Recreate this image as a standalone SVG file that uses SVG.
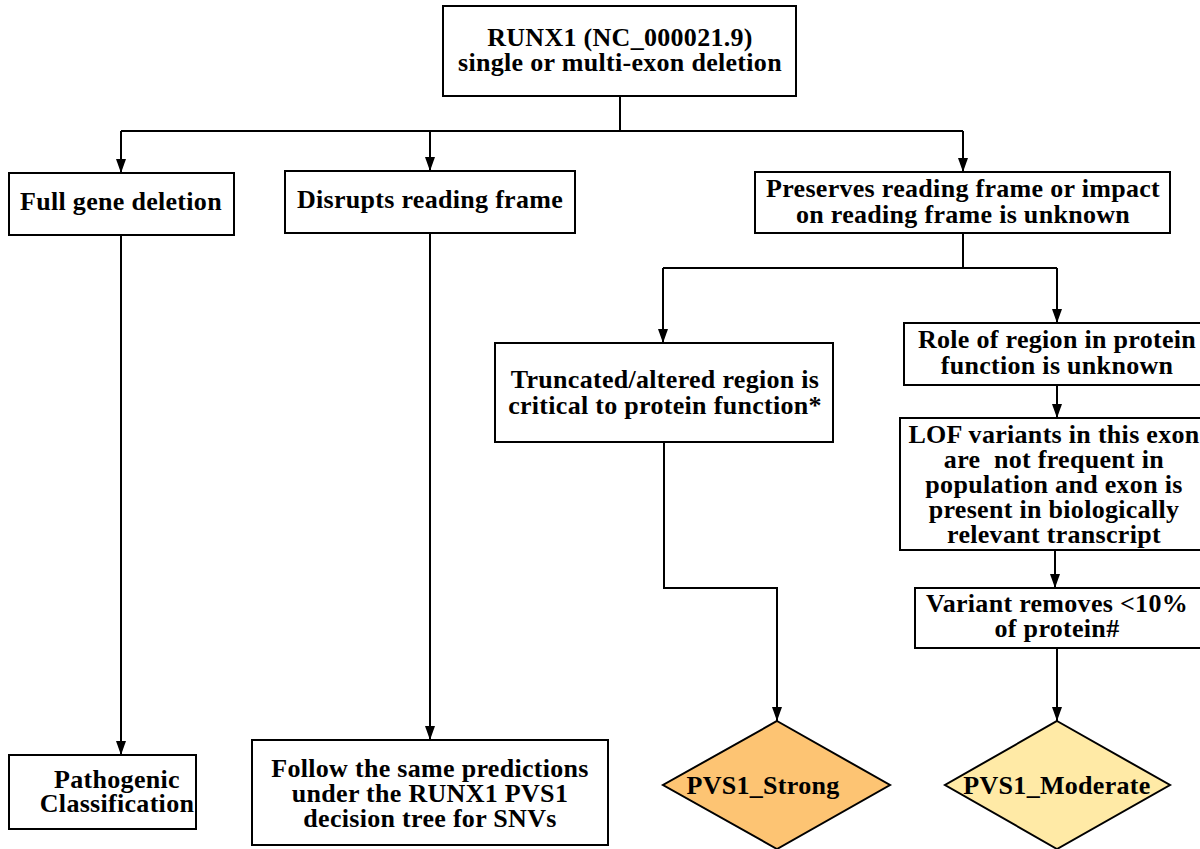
<svg xmlns="http://www.w3.org/2000/svg" width="1200" height="849" viewBox="0 0 1200 849">
<style>
.box{fill:#fff;stroke:#000;stroke-width:2}
.t{font-family:'Liberation Serif','DejaVu Serif',serif;font-weight:bold;font-size:26px;letter-spacing:0.3px;text-anchor:middle;fill:#000}
.c{fill:none;stroke:#000;stroke-width:2}
</style>
<defs>
<marker id="ah" markerWidth="14" markerHeight="10" refX="14" refY="5" orient="auto" markerUnits="userSpaceOnUse" viewBox="0 0 14 10">
<path d="M0,0 L14,5 L0,10 Z" fill="#000"/>
</marker>
</defs>
<rect width="1200" height="849" fill="#fff"/>
<g id="connectors">
<path class="c" d="M620,96 V131"/>
<path class="c" d="M121,131 H963"/>
<path class="c" d="M121,131 V173" marker-end="url(#ah)"/>
<path class="c" d="M430,131 V171" marker-end="url(#ah)"/>
<path class="c" d="M963,131 V172" marker-end="url(#ah)"/>
<path class="c" d="M121,235 V755" marker-end="url(#ah)"/>
<path class="c" d="M430,233 V740" marker-end="url(#ah)"/>
<path class="c" d="M963,233 V268 M663,268 H1057"/>
<path class="c" d="M663,268 V343" marker-end="url(#ah)"/>
<path class="c" d="M1057,268 V323" marker-end="url(#ah)"/>
<path class="c" d="M1057,385 V418" marker-end="url(#ah)"/>
<path class="c" d="M1055,550 V588" marker-end="url(#ah)"/>
<path class="c" d="M1057,648 V721" marker-end="url(#ah)"/>
<path class="c" d="M664,442 V588 H777 V721" marker-end="url(#ah)"/>
</g>
<g id="n-root">
<rect class="box" x="443" y="6" width="353" height="90"/>
<text class="t" x="620" y="46">RUNX1 (NC_000021.9)</text>
<text class="t" x="620" y="71">single or multi-exon deletion</text>
</g>
<g id="n-full">
<rect class="box" x="9" y="173" width="225" height="62"/>
<text class="t" x="121" y="210">Full gene deletion</text>
</g>
<g id="n-disrupts">
<rect class="box" x="285" y="171" width="290" height="62"/>
<text class="t" x="430" y="208">Disrupts reading frame</text>
</g>
<g id="n-preserves">
<rect class="box" x="755" y="172" width="415" height="61"/>
<text class="t" x="963" y="197">Preserves reading frame or impact</text>
<text class="t" x="963" y="223">on reading frame is unknown</text>
</g>
<g id="n-truncated">
<rect class="box" x="495" y="343" width="338" height="99"/>
<text class="t" x="665" y="388">Truncated/altered region is</text>
<text class="t" x="665" y="414">critical to protein function*</text>
</g>
<g id="n-role">
<rect class="box" x="904" y="323" width="310" height="62"/>
<text class="t" x="1057" y="348">Role of region in protein</text>
<text class="t" x="1057" y="374">function is unknown</text>
</g>
<g id="n-lof">
<rect class="box" x="900" y="418" width="310" height="132"/>
<text class="t" x="1054" y="443">LOF variants in this exon</text>
<text class="t" x="1054" y="468" xml:space="preserve">are  not frequent in</text>
<text class="t" x="1054" y="493">population and exon is</text>
<text class="t" x="1054" y="518">present in biologically</text>
<text class="t" x="1054" y="543">relevant transcript</text>
</g>
<g id="n-variant">
<rect class="box" x="915" y="588" width="290" height="60"/>
<text class="t" x="1057" y="612">Variant removes &lt;10%</text>
<text class="t" x="1057" y="637">of protein#</text>
</g>
<g id="n-pathogenic">
<rect class="box" x="9" y="755" width="187" height="74"/>
<text class="t" x="117" y="788">Pathogenic</text>
<text class="t" x="117" y="812">Classification</text>
</g>
<g id="n-follow">
<rect class="box" x="252" y="740" width="356" height="105"/>
<text class="t" x="430" y="777">Follow the same predictions</text>
<text class="t" x="430" y="802">under the RUNX1 PVS1</text>
<text class="t" x="430" y="827">decision tree for SNVs</text>
</g>
<g id="n-strong">
<polygon points="777,721 890,785 777,849 663,785" fill="#FDC473" stroke="#000" stroke-width="2"/>
<text class="t" x="763" y="794">PVS1_Strong</text>
</g>
<g id="n-moderate">
<polygon points="1057,721 1170,785 1057,849 945,785" fill="#FFEAA6" stroke="#000" stroke-width="2"/>
<text class="t" x="1057" y="794">PVS1_Moderate</text>
</g>
</svg>
